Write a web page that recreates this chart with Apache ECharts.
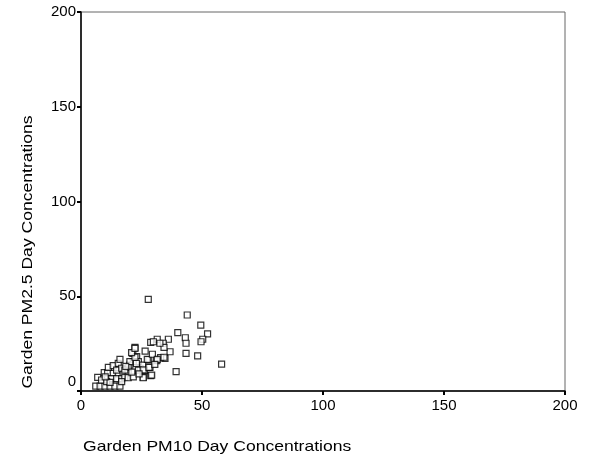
<!DOCTYPE html>
<html><head><meta charset="utf-8">
<script src="https://cdn.jsdelivr.net/npm/echarts@6/dist/echarts.min.js"></script>
<style>html,body{margin:0;padding:0;background:#fff}#c{width:593px;height:461px}</style>
</head><body><div id="c"></div>
<script>
const xTicks = [0, 50, 100, 150, 200];
const yTicks = [0, 50, 100, 150, 200];
const pm10 = [27.8, 43.9, 49.5, 52.3, 50.3, 49.6, 40.0, 43.1, 43.4, 43.4, 48.2, 58.1, 39.3, 36.1, 34.0, 36.8, 34.3, 31.5, 28.8, 29.9, 32.6, 34.7, 32.9, 31.3, 28.0, 28.5, 28.8, 25.7, 22.3, 21.4, 23.0, 23.7, 21.6, 20.2, 18.9, 24.4, 25.5, 26.2, 17.2,
  6.9, 6.1, 7.9, 9.9, 12.0, 14.0, 16.1, 9.6, 11.0, 13.3, 15.4, 17.4, 19.5, 11.3, 13.3, 15.4, 16.1, 19.5, 20.2, 22.3, 20.9, 22.3, 12.7, 14.7, 16.8, 18.1, 8.5, 10.6, 16.8, 19.5, 21.6, 23.7, 25.7, 25.7, 29.2, 28.1, 27.4, 29.5, 31.5, 34.3, 14.7, 16.8, 18.1, 22.9, 21.0, 24.0, 12.0, 10.0, 18.5, 26.5, 30.5];
const pm25 = [48.4, 40.1, 34.8, 30.1, 27.3, 26.0, 30.8, 28.1, 25.2, 19.9, 18.5, 14.2, 10.2, 27.3, 25.2, 20.7, 23.0, 27.3, 25.7, 26.0, 25.2, 17.2, 17.6, 16.0, 16.4, 12.5, 8.1, 7.2, 23.0, 19.9, 18.1, 15.5, 15.5, 13.7, 11.1, 12.0, 13.7, 10.7, 11.1,
  7.2, 2.6, 2.6, 2.6, 2.6, 2.6, 2.6, 9.7, 9.7, 9.3, 9.0, 9.0, 9.3, 12.5, 13.4, 14.6, 16.7, 12.5, 15.5, 17.8, 20.2, 22.5, 6.5, 6.5, 6.5, 7.2, 5.8, 5.0, 5.0, 7.0, 7.5, 11.0, 11.1, 7.0, 8.4, 12.5, 16.7, 19.4, 16.7, 17.8, 11.0, 12.0, 11.0, 14.5, 10.0, 9.0, 4.5, 7.5, 13.0, 21.0, 14.0];
const xTitle = 'Garden PM10 Day Concentrations';
const yTitle = 'Garden PM2.5 Day Concentrations';

const pts = pm10.map((v, i) => [v, pm25[i]]);
const font = 'Liberation Sans, Arial, sans-serif';
const chart = echarts.init(document.getElementById('c'));
const axisCommon = {
  type: 'value', min: xTicks[0], max: xTicks[xTicks.length - 1], interval: 50,
  splitLine: { show: false },
  axisLine: { show: true, lineStyle: { color: '#000', width: 1.5 } },
  axisTick: { show: true, inside: false, length: 4, lineStyle: { color: '#000', width: 2 } },
  axisLabel: { color: '#000', fontSize: 15, fontFamily: font }
};
chart.setOption({
  animation: false,
  backgroundColor: '#fff',
  grid: { left: 81, right: 28, top: 12, bottom: 70, show: true, borderColor: '#666', borderWidth: 1 },
  xAxis: Object.assign({}, axisCommon, { axisLabel: Object.assign({}, axisCommon.axisLabel, { margin: 7 }) }),
  yAxis: Object.assign({}, axisCommon, {
    min: yTicks[0], max: yTicks[yTicks.length - 1],
    axisLabel: Object.assign({}, axisCommon.axisLabel, {
      margin: 5,
      formatter: v => v === 0 ? '{z|0}' : String(v),
      rich: { z: { fontSize: 15, fontFamily: font, color: '#000', padding: [0, 0, 18, 0] } }
    })
  }),
  graphic: [
    { type: 'text', x: 83, y: 439, scaleX: 1.17, style: { text: xTitle, font: '15px ' + font, fill: '#000', verticalAlign: 'top' } },
    { type: 'text', x: 20, y: 252, rotation: Math.PI / 2, scaleX: 1.17, style: { text: yTitle, font: '15px ' + font, fill: '#000', align: 'center', verticalAlign: 'top' } }
  ],
  series: [{
    type: 'scatter', data: pts, symbol: 'rect', symbolSize: 6,
    itemStyle: { color: '#fff', borderColor: '#000', borderWidth: 1.2 }
  }]
});
</script></body></html>
